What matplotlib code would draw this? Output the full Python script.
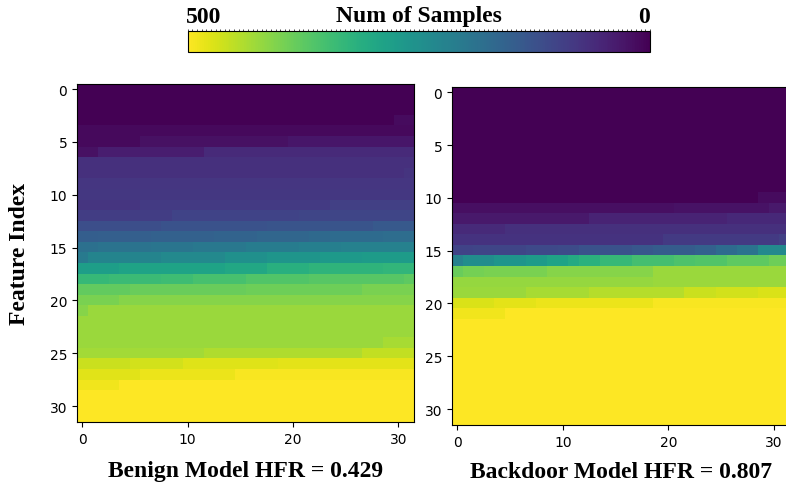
import numpy as np
import matplotlib
matplotlib.use("Agg")
import matplotlib.pyplot as plt
from matplotlib.colors import Normalize
from matplotlib.cm import ScalarMappable

# ---- data: each row given as (start column, value) segments, values 0..500 ----
n_cols = 32
benign_rows = [
    [(0, 0)], [(0, 0)], [(0, 0)],
    [(0, 0), (30, 15)],
    [(0, 12)],
    [(0, 12), (6, 22), (20, 30)],
    [(0, 22), (2, 40), (12, 60)],
    [(0, 70)],
    [(0, 70), (31, 75)],
    [(0, 80)],
    [(0, 82)],
    [(0, 77), (6, 85), (24, 95)],
    [(0, 90), (9, 100), (21, 105)],
    [(0, 120), (8, 125), (18, 130), (28, 140)],
    [(0, 150), (2, 152), (7, 155), (13, 160), (17, 165), (22, 170), (24, 175), (29, 178)],
    [(0, 185), (2, 190), (7, 195), (11, 200), (16, 210), (21, 215), (25, 220)],
    [(0, 205), (1, 225), (8, 235), (14, 250), (18, 260), (23, 270), (27, 275)],
    [(0, 280), (4, 290), (14, 300), (18, 315), (22, 325), (29, 330)],
    [(0, 335), (3, 340), (8, 345), (11, 355), (16, 365), (22, 370), (31, 375)],
    [(0, 380), (5, 385), (16, 390), (27, 400)],
    [(0, 400), (4, 410)],
    [(0, 410), (1, 425)],
    [(0, 425)],
    [(0, 425)],
    [(0, 425), (29, 435)],
    [(0, 430), (12, 440), (27, 455)],
    [(0, 460), (5, 465), (10, 475), (19, 480)],
    [(0, 478), (6, 485), (15, 495)],
    [(0, 490), (4, 500)],
    [(0, 500)], [(0, 500)], [(0, 500)],
]
backdoor_rows = [
    [(0, 0)], [(0, 0)], [(0, 0)], [(0, 0)], [(0, 0)],
    [(0, 0)], [(0, 0)], [(0, 0)], [(0, 0)], [(0, 0)],
    [(0, 0), (29, 15)],
    [(0, 20), (21, 25), (30, 35)],
    [(0, 35), (13, 50), (26, 58)],
    [(0, 60), (5, 70)],
    [(0, 73), (20, 85), (31, 95)],
    [(0, 100), (2, 105), (7, 110), (10, 115), (12, 125), (17, 135), (19, 145),
     (23, 155), (25, 175), (27, 190), (29, 235)],
    [(0, 220), (1, 245), (4, 260), (7, 275), (9, 290), (11, 305), (12, 320),
     (14, 335), (17, 350), (21, 360), (23, 365), (26, 375), (30, 390)],
    [(0, 385), (1, 395), (3, 400), (9, 410), (19, 425)],
    [(0, 420), (19, 425)],
    [(0, 425), (7, 435), (13, 445), (22, 460), (25, 465), (29, 472)],
    [(0, 472), (4, 480), (8, 485), (19, 495)],
    [(0, 490), (5, 500)],
    [(0, 500)], [(0, 500)], [(0, 500)], [(0, 500)], [(0, 500)],
    [(0, 500)], [(0, 500)], [(0, 500)], [(0, 500)], [(0, 500)],
]
titles = ["Benign Model HFR = 0.429", "Backdoor Model HFR = 0.807"]
x_ticks = [0, 10, 20, 30]
y_ticks = [0, 5, 10, 15, 20, 25, 30]
vmin, vmax = 0, 500


def build(rows):
    m = np.zeros((len(rows), n_cols))
    for i, segs in enumerate(rows):
        for k, (start, val) in enumerate(segs):
            end = segs[k + 1][0] if k + 1 < len(segs) else n_cols
            m[i, start:end] = val
    return m


mats = [build(benign_rows), build(backdoor_rows)]

serif = ["Liberation Serif", "DejaVu Serif"]
big = 17
fig = plt.figure(figsize=(7.86, 4.85), dpi=100)

positions = [[0.098, 0.128, 0.4288, 0.697], [0.575, 0.1217, 0.430, 0.697]]
pads = [10.5, 8.5]
axes = []
for pos, m, t, pad in zip(positions, mats, titles, pads):
    ax = fig.add_axes(pos)
    ax.imshow(m, cmap="viridis", vmin=vmin, vmax=vmax, aspect="auto",
              interpolation="nearest")
    ax.set_xticks(x_ticks)
    ax.set_yticks(y_ticks)
    ax.tick_params(labelsize=10)
    ax.set_xlabel(t, fontsize=big, fontweight="bold", family=serif, labelpad=pad)
    axes.append(ax)

axes[0].set_ylabel("Feature Index", fontsize=big, fontweight="bold",
                   family=serif, labelpad=14)

# colorbar
cax = fig.add_axes([0.239, 0.8907, 0.5878, 0.0433])
sm = ScalarMappable(norm=Normalize(vmin, vmax), cmap="viridis")
cb = fig.colorbar(sm, cax=cax, orientation="horizontal")
cax.invert_xaxis()
cax.xaxis.set_ticks_position("top")
cax.set_xticks(np.arange(vmin, vmax + 1, 5))
cax.set_xticklabels([])
cax.tick_params(axis="x", length=1.5, width=0.5)
cb.outline.set_linewidth(0.8)
cax.text(-0.005, 1.43, "500", transform=cax.transAxes, ha="left", va="baseline",
         fontsize=big, fontweight="bold", family=serif)
cax.text(1.0, 1.43, "0", transform=cax.transAxes, ha="right", va="baseline",
         fontsize=big, fontweight="bold", family=serif)
cax.text(0.5, 1.5, "Num of Samples", transform=cax.transAxes, ha="center",
         va="baseline", fontsize=big, fontweight="bold", family=serif)

fig.savefig("out.png", dpi=100)
